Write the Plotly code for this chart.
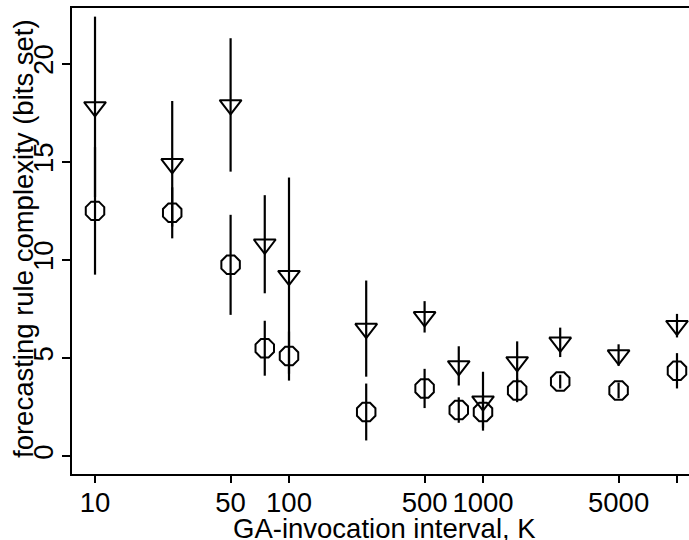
import plotly.graph_objects as go

intervals = [10, 25, 50, 75, 100, 250, 500, 750, 1000, 1500, 2500, 5000, 10000]

tri_mean = [17.8, 14.9, 17.9, 10.8, 9.2, 6.5, 7.1, 4.6, 2.8, 4.8, 5.8, 5.15, 6.65]
tri_err = [4.6, 3.2, 3.4, 2.5, 5.0, 2.45, 0.8, 1.0, 1.5, 1.05, 0.75, 0.55, 0.6]

circ_mean = [12.5, 12.4, 9.75, 5.5, 5.1, 2.25, 3.45, 2.35, 2.25, 3.35, 3.8, 3.35, 4.35]
circ_err = [3.25, 1.3, 2.55, 1.4, 1.25, 1.45, 1.0, 0.65, 0.8, 0.6, 0.35, 0.4, 0.9]

x_tickvals = [10, 50, 100, 500, 1000, 5000, 10000]
x_ticktext = ["10", "50", "100", "500", "1000", "5000", ""]
y_tickvals = [0, 5, 10, 15, 20]

x_title = "GA-invocation interval, K"
y_title = "forecasting rule complexity (bits set)"

font_family = "Liberation Sans, Arial, sans-serif"
FS = 27.5

W, H = 689, 540
ML, MR, MT, MB = 72, 0, 8, 66
PW, PH = W - ML - MR, H - MT - MB

fig = go.Figure()
fig.add_trace(go.Scatter(
    x=intervals, y=circ_mean, mode="markers",
    marker=dict(symbol="octagon-open", size=20, color="black", line=dict(width=2, color="black")),
    error_y=dict(type="data", array=circ_err, visible=True, color="black", thickness=2.2, width=0),
    showlegend=False, hoverinfo="skip",
))
fig.add_trace(go.Scatter(
    x=intervals, y=tri_mean, mode="markers",
    marker=dict(symbol="triangle-down-open", size=19, color="black", line=dict(width=2, color="black")),
    error_y=dict(type="data", array=tri_err, visible=True, color="black", thickness=2.2, width=0),
    showlegend=False, hoverinfo="skip",
))

fig.update_layout(
    width=W, height=H,
    margin=dict(l=ML, r=MR, t=MT, b=MB, autoexpand=False),
    paper_bgcolor="white", plot_bgcolor="white",
    font=dict(family=font_family, size=FS, color="black"),
    xaxis=dict(
        type="log", range=[0.8814, 4.0619],
        tickvals=x_tickvals, ticktext=x_ticktext,
        showline=True, linecolor="black", linewidth=2, mirror=True,
        ticks="outside", ticklen=7, tickwidth=2, tickcolor="black",
        ticklabelstandoff=-4,
        showgrid=False, zeroline=False, automargin=False,
        tickfont=dict(size=FS),
    ),
    yaxis=dict(
        range=[-0.91, 22.84],
        tickvals=y_tickvals, tickangle=-90,
        showline=True, linecolor="black", linewidth=2, mirror=False,
        ticks="outside", ticklen=8, tickwidth=2, tickcolor="black",
        ticklabelstandoff=-2,
        showgrid=False, zeroline=False, automargin=False,
        tickfont=dict(size=FS),
    ),
    annotations=[
        dict(text=x_title, xref="paper", yref="paper", x=(384.5 - ML) / PW, y=(474 - 528) / PH,
             xanchor="center", yanchor="middle", showarrow=False, font=dict(size=FS)),
        dict(text=y_title, xref="paper", yref="paper", x=(23 - ML) / PW, y=(474 - 239) / PH,
             xanchor="center", yanchor="middle", textangle=-90, showarrow=False, font=dict(size=FS)),
    ],
)

fig.write_html(
    "out.html",
    config={"displayModeBar": False},
    post_script="document.body.style.margin='0';document.body.style.overflow='hidden';",
)
